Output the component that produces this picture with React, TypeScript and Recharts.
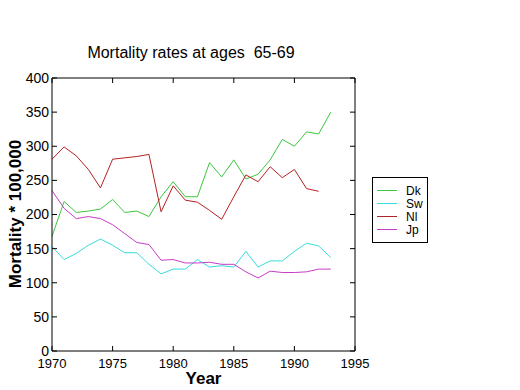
import { LineChart, Line, XAxis, YAxis } from 'recharts';

// ── Data ──────────────────────────────────────────────────────────────────────

const YEARS = [
  1970, 1971, 1972, 1973, 1974, 1975, 1976, 1977, 1978, 1979, 1980, 1981,
  1982, 1983, 1984, 1985, 1986, 1987, 1988, 1989, 1990, 1991, 1992, 1993,
];
const DK = [168, 219, 203, 205, 208, 222, 203, 205, 197, 226, 248, 226, 226, 276, 255, 280, 252, 259, 280, 310, 300, 321, 318, 350];
const SW = [153, 134, 143, 155, 164, 155, 144, 144, 127, 113, 120, 120, 134, 123, 125, 123, 146, 123, 132, 132, 146, 158, 154, 137];
const NL = [281, 299, 286, 266, 239, 281, 283, 285, 288, 204, 242, 221, 218, 206, 193, 226, 258, 248, 270, 254, 266, 238, 234];
const JP = [235, 209, 194, 197, 194, 185, 172, 159, 156, 133, 134, 129, 129, 130, 127, 127, 116, 107, 117, 115, 115, 116, 120, 120];

const X_TICKS = [1970, 1975, 1980, 1985, 1990, 1995];
const Y_TICKS = [0, 50, 100, 150, 200, 250, 300, 350, 400];

// the top/right frame axes share the same domain, so a series can sit on either pair
const SERIES = [
  { key: 'Dk', values: DK, color: '#3cc83c', x: 'top', y: 'right' },
  { key: 'Sw', values: SW, color: '#36dcdc', x: 0, y: 0 },
  { key: 'Nl', values: NL, color: '#b42222', x: 'top', y: 'right' },
  { key: 'Jp', values: JP, color: '#c83cc8', x: 0, y: 0 },
];

const FONT = '"Liberation Sans", Arial, sans-serif';

const rows = YEARS.map((year, i) => {
  const row: Record<string, number | null> = { year };
  for (const s of SERIES) row[s.key] = s.values[i] ?? null;
  return row;
});

const X_DOMAIN: [number, number] = [1970, 1995];
const Y_DOMAIN: [number, number] = [0, 400];
const NoLabel = () => <g />;

export default function App() {
  return (
    <div style={{ position: 'absolute', left: 0, top: 0, width: 520, height: 390, background: '#fff', fontFamily: FONT }}>
      <LineChart width={520} height={390} data={rows} margin={{ top: 77, right: 164, bottom: 0, left: 0 }}>
        {/* negative tickSize draws the ticks inside the frame */}
        <XAxis
          dataKey="year" type="number" domain={X_DOMAIN} ticks={X_TICKS} interval={0}
          height={39} tickSize={-5} tickMargin={13} stroke="#000"
          tick={{ fontSize: 13, fill: '#000', fontFamily: FONT }}
        />
        <XAxis
          xAxisId="top" orientation="top" dataKey="year" type="number" domain={X_DOMAIN}
          ticks={X_TICKS} interval={0} height={1} tickSize={-5} tick={NoLabel} stroke="#000"
        />
        <YAxis
          type="number" domain={Y_DOMAIN} ticks={Y_TICKS} interval={0}
          width={52} tickSize={-5} tickMargin={8} stroke="#000"
          tick={{ fontSize: 14, fill: '#000', fontFamily: FONT }}
        />
        <YAxis
          yAxisId="right" orientation="right" type="number" domain={Y_DOMAIN} ticks={Y_TICKS}
          interval={0} width={1} tickSize={-5} tick={NoLabel} stroke="#000"
        />
        {SERIES.map((s) => (
          <Line
            key={s.key} dataKey={s.key} xAxisId={s.x} yAxisId={s.y} stroke={s.color} strokeWidth={1}
            dot={false} type="linear" isAnimationActive={false}
          />
        ))}
      </LineChart>

      {/* Title and axis labels */}
      <div style={{ position: 'absolute', left: 0, width: 382, top: 44, textAlign: 'center', fontSize: 16 }}>
        Mortality rates at ages&nbsp; 65-69
      </div>
      <div style={{ position: 'absolute', left: 52, width: 303, top: 369, textAlign: 'center', fontSize: 17, fontWeight: 700 }}>
        Year
      </div>
      <div style={{
        position: 'absolute', left: 16, top: 214, fontSize: 17, fontWeight: 700, whiteSpace: 'nowrap',
        transform: 'translate(-50%, -50%) rotate(-90deg)',
      }}>
        Mortality * 100,000
      </div>

      {/* Legend */}
      <div style={{
        position: 'absolute', left: 372, top: 177, width: 56, height: 66, border: '1px solid #000',
        boxSizing: 'border-box', paddingTop: 6,
      }}>
        {SERIES.map((s) => (
          <div key={s.key} style={{ display: 'flex', alignItems: 'center', height: 13, fontSize: 12 }}>
            <span style={{ marginLeft: 4, width: 20, height: 1, background: s.color }} />
            <span style={{ marginLeft: 9 }}>{s.key}</span>
          </div>
        ))}
      </div>
    </div>
  );
}
